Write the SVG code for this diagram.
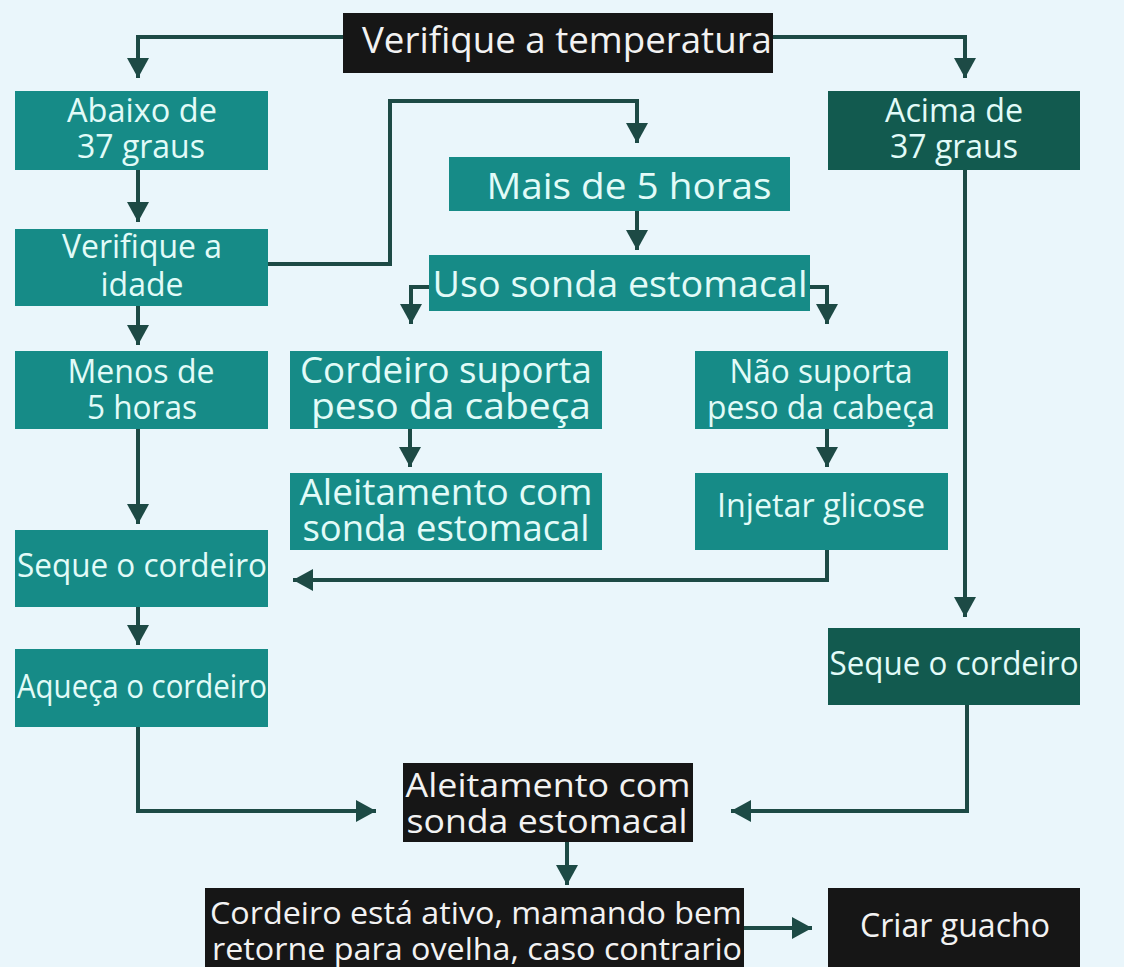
<svg xmlns="http://www.w3.org/2000/svg" width="1124" height="967" viewBox="0 0 1124 967">
<style>
.bg{fill:#eaf6fb}
.teal{fill:#168b87}
.dark{fill:#125a4f}
.blk{fill:#161616}
text{font-family:"Open Sans","Noto Sans","Liberation Sans",sans-serif;font-size:33px;text-anchor:middle}
.lt{fill:#e2fbf8}
.wt{fill:#f2f2f2}
.big{font-size:36px}
.sm{font-size:31px}
.con{fill:none;stroke:#1d4a45;stroke-width:4}
</style>
<defs>
<marker id="ah" viewBox="0 0 20 22" refX="20" refY="11" markerWidth="20" markerHeight="22" markerUnits="userSpaceOnUse" orient="auto">
<path d="M0,0 L20,11 L0,22 Z" fill="#1d4a45"/>
</marker>
</defs>
<rect class="bg" x="0" y="0" width="1124" height="967"/>
<g id="connectors">
<path class="con" d="M343,37 H138 V78" marker-end="url(#ah)"/>
<path class="con" d="M773,37 H965 V78" marker-end="url(#ah)"/>
<path class="con" d="M138,170 V222" marker-end="url(#ah)"/>
<path class="con" d="M268,264 H390 V101 H637 V143" marker-end="url(#ah)"/>
<path class="con" d="M637,211 V250" marker-end="url(#ah)"/>
<path class="con" d="M429,287 H411 V324" marker-end="url(#ah)"/>
<path class="con" d="M810,287 H827 V324" marker-end="url(#ah)"/>
<path class="con" d="M138,306 V345" marker-end="url(#ah)"/>
<path class="con" d="M410,429 V467" marker-end="url(#ah)"/>
<path class="con" d="M827,429 V467" marker-end="url(#ah)"/>
<path class="con" d="M138,429 V524" marker-end="url(#ah)"/>
<path class="con" d="M827,550 V580 H293" marker-end="url(#ah)"/>
<path class="con" d="M138,607 V645" marker-end="url(#ah)"/>
<path class="con" d="M965,170 V617" marker-end="url(#ah)"/>
<path class="con" d="M138,727 V811 H376" marker-end="url(#ah)"/>
<path class="con" d="M967,705 V811 H731" marker-end="url(#ah)"/>
<path class="con" d="M567,842 V885" marker-end="url(#ah)"/>
<path class="con" d="M744,928 H812" marker-end="url(#ah)"/>
</g>
<g id="n-temp"><rect class="blk" x="343" y="13" width="430" height="60"/><text class="wt big" x="567" y="53" textLength="410" lengthAdjust="spacingAndGlyphs">Verifique a temperatura</text></g>
<g id="n-abaixo"><rect class="teal" x="15" y="91" width="253" height="79"/><text class="lt" x="142" y="122" textLength="150" lengthAdjust="spacingAndGlyphs">Abaixo de</text><text class="lt" x="141" y="158" textLength="128" lengthAdjust="spacingAndGlyphs">37 graus</text></g>
<g id="n-acima"><rect class="dark" x="828" y="91" width="252" height="79"/><text class="lt" x="954" y="122" textLength="138" lengthAdjust="spacingAndGlyphs">Acima de</text><text class="lt" x="954" y="158" textLength="128" lengthAdjust="spacingAndGlyphs">37 graus</text></g>
<g id="n-idade"><rect class="teal" x="15" y="229" width="253" height="77"/><text class="lt" x="142" y="258" textLength="160" lengthAdjust="spacingAndGlyphs">Verifique a</text><text class="lt" x="142" y="296" textLength="83" lengthAdjust="spacingAndGlyphs">idade</text></g>
<g id="n-mais5"><rect class="teal" x="449" y="157" width="341" height="54"/><text class="lt big" x="629" y="199" textLength="285" lengthAdjust="spacingAndGlyphs">Mais de 5 horas</text></g>
<g id="n-sonda"><rect class="teal" x="429" y="255" width="381" height="56"/><text class="lt big" x="620" y="297" textLength="375" lengthAdjust="spacingAndGlyphs">Uso sonda estomacal</text></g>
<g id="n-menos5"><rect class="teal" x="15" y="351" width="253" height="78"/><text class="lt" x="141" y="383" textLength="147" lengthAdjust="spacingAndGlyphs">Menos de</text><text class="lt" x="142" y="419" textLength="110" lengthAdjust="spacingAndGlyphs">5 horas</text></g>
<g id="n-suporta"><rect class="teal" x="290" y="351" width="312" height="78"/><text class="lt big" x="446" y="383" textLength="292" lengthAdjust="spacingAndGlyphs">Cordeiro suporta</text><text class="lt big" x="451" y="419" textLength="280" lengthAdjust="spacingAndGlyphs">peso da cabeça</text></g>
<g id="n-naosuporta"><rect class="teal" x="695" y="351" width="253" height="78"/><text class="lt" x="821" y="383" textLength="183" lengthAdjust="spacingAndGlyphs">Não suporta</text><text class="lt" x="821" y="419" textLength="228" lengthAdjust="spacingAndGlyphs">peso da cabeça</text></g>
<g id="n-aleit1"><rect class="teal" x="290" y="473" width="312" height="77"/><text class="lt big" x="446" y="505" textLength="293" lengthAdjust="spacingAndGlyphs">Aleitamento com</text><text class="lt big" x="446" y="541" textLength="287" lengthAdjust="spacingAndGlyphs">sonda estomacal</text></g>
<g id="n-glicose"><rect class="teal" x="695" y="473" width="253" height="77"/><text class="lt" x="821" y="517" textLength="208" lengthAdjust="spacingAndGlyphs">Injetar glicose</text></g>
<g id="n-seque1"><rect class="teal" x="15" y="530" width="253" height="77"/><text class="lt" x="142" y="577" textLength="250" lengthAdjust="spacingAndGlyphs">Seque o cordeiro</text></g>
<g id="n-aqueca"><rect class="teal" x="15" y="649" width="253" height="78"/><text class="lt" x="142" y="698" textLength="250" lengthAdjust="spacingAndGlyphs">Aqueça o cordeiro</text></g>
<g id="n-seque2"><rect class="dark" x="828" y="628" width="252" height="77"/><text class="lt" x="954" y="675" textLength="249" lengthAdjust="spacingAndGlyphs">Seque o cordeiro</text></g>
<g id="n-aleit2"><rect class="blk" x="403" y="763" width="290" height="79"/><text class="wt" x="548" y="797" textLength="285" lengthAdjust="spacingAndGlyphs">Aleitamento com</text><text class="wt" x="547" y="833" textLength="281" lengthAdjust="spacingAndGlyphs">sonda estomacal</text></g>
<g id="n-ativo"><rect class="blk" x="205" y="888" width="539" height="79"/><text class="wt sm" x="476" y="924" textLength="532" lengthAdjust="spacingAndGlyphs">Cordeiro está ativo, mamando bem</text><text class="wt sm" x="477" y="960" textLength="530" lengthAdjust="spacingAndGlyphs">retorne para ovelha, caso contrario</text></g>
<g id="n-guacho"><rect class="blk" x="828" y="888" width="252" height="79"/><text class="wt" x="955" y="937" textLength="190" lengthAdjust="spacingAndGlyphs">Criar guacho</text></g>
</svg>
